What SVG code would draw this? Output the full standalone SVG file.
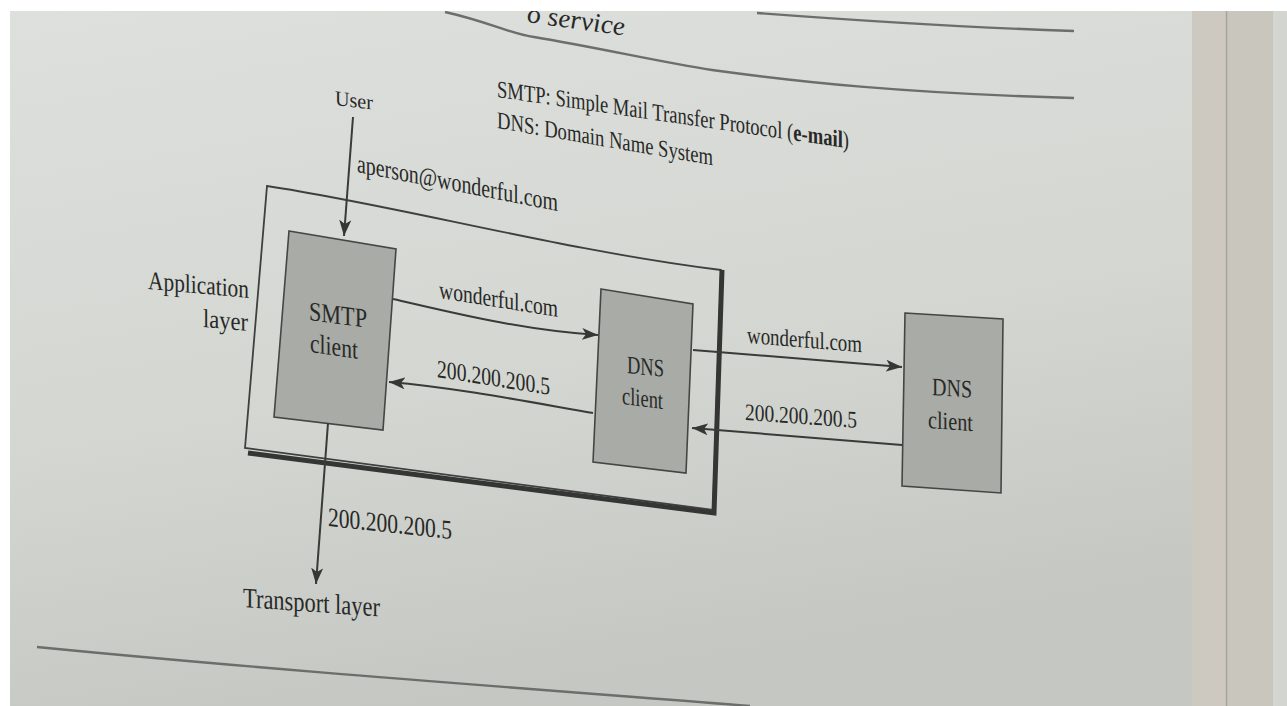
<svg xmlns="http://www.w3.org/2000/svg" width="1287" height="706" viewBox="0 0 1287 706">
<defs>
<linearGradient id="page" x1="0" y1="0" x2="0.3" y2="1">
<stop offset="0" stop-color="#dde0dc"/>
<stop offset="0.6" stop-color="#d3d6d1"/>
<stop offset="1" stop-color="#c4c7c2"/>
</linearGradient>
<marker id="ah" viewBox="0 0 16 12" refX="16" refY="6" markerWidth="16" markerHeight="12" markerUnits="userSpaceOnUse" orient="auto">
<path d="M0,0 L16,6 L0,12 L4,6 z" fill="#363735"/>
</marker>
<style>
text{font-family:"Liberation Serif","Times New Roman",serif;fill:#282927}
.box{fill:#a8aba6;stroke:#454644;stroke-width:1.6}
.frame{fill:none;stroke:#3f403e;stroke-width:1.8}
.shadow{fill:none;stroke:#353634;stroke-width:5;stroke-linejoin:miter}
.conn{fill:none;stroke:#3a3b39;stroke-width:2}
.rule{fill:none;stroke:#6b6e6a;stroke-width:2.4}
</style>
</defs>
<rect x="0" y="0" width="1287" height="706" fill="url(#page)"/>
<rect x="1192" y="0" width="34" height="706" fill="#cdc9c0"/>
<rect x="1226" y="0" width="47" height="706" fill="#c9c6bd"/>
<line x1="1226.5" y1="0" x2="1226.5" y2="706" stroke="#a7a49c" stroke-width="1.5"/>
<rect x="1273" y="0" width="14" height="706" fill="#d2d5d0"/>

<g id="page-rules">
<path class="rule" d="M445,12 C490,22 510,34 534,37 C600,48 660,62 712,70 C800,82 900,93 1074,98"/>
<path class="rule" d="M757,13 C850,20 950,27 1074,31"/>
<path class="rule" d="M37,647 C250,668 480,685 750,706"/>
</g>
<text transform="translate(527,22) skewY(8)" font-size="27" font-style="italic" textLength="98" lengthAdjust="spacingAndGlyphs">o service</text>

<rect x="0" y="0" width="1287" height="11" fill="#ffffff"/>
<rect x="0" y="0" width="10" height="706" fill="#ffffff"/>

<g id="notes">
<text transform="translate(497,97) skewY(8.3)" font-size="24" textLength="352" lengthAdjust="spacingAndGlyphs">SMTP: Simple Mail Transfer Protocol (<tspan font-weight="bold">e-mail</tspan>)</text>
<text transform="translate(497,128) skewY(9.8)" font-size="24" textLength="216" lengthAdjust="spacingAndGlyphs">DNS: Domain Name System</text>
</g>

<g id="application-layer">
<path class="frame" d="M267,186 C400,206 560,250 721,270 L713,510 L245,448 Z"/>
<polyline class="shadow" points="248,453 714,513 722,270"/>
<text transform="translate(148,289) skewY(5)" font-size="26" textLength="101" lengthAdjust="spacingAndGlyphs">Application</text>
<text transform="translate(203,327) skewY(5)" font-size="26" textLength="45" lengthAdjust="spacingAndGlyphs">layer</text>
</g>

<g id="smtp-client">
<polygon class="box" points="289,231 396,249 383,430 274,417"/>
<text transform="translate(309,320) skewY(7.5)" font-size="27" textLength="58" lengthAdjust="spacingAndGlyphs">SMTP</text>
<text transform="translate(310,352) skewY(8)" font-size="27" textLength="48" lengthAdjust="spacingAndGlyphs">client</text>
</g>

<g id="dns-client-local">
<polygon class="box" points="601,289 693,304 686,473 593,462"/>
<text transform="translate(627,373) skewY(6)" font-size="25" textLength="37" lengthAdjust="spacingAndGlyphs">DNS</text>
<text transform="translate(622,404) skewY(7)" font-size="25" textLength="41" lengthAdjust="spacingAndGlyphs">client</text>
</g>

<g id="dns-client-remote">
<polygon class="box" points="905,313 1003,319 1001,493 902,486"/>
<text transform="translate(932,395) skewY(4)" font-size="25" textLength="40" lengthAdjust="spacingAndGlyphs">DNS</text>
<text transform="translate(928,428) skewY(4)" font-size="25" textLength="45" lengthAdjust="spacingAndGlyphs">client</text>
</g>

<g id="connectors">
<path class="conn" marker-end="url(#ah)" d="M353,117 L344,236"/>
<path class="conn" marker-end="url(#ah)" d="M393,299 C450,312 520,330 598,335"/>
<path class="conn" marker-end="url(#ah)" d="M593,413 C540,404 460,388 389,382"/>
<path class="conn" marker-end="url(#ah)" d="M693,350 L902,367"/>
<path class="conn" marker-end="url(#ah)" d="M902,445 L692,428"/>
<path class="conn" marker-end="url(#ah)" d="M328,423 L316,584"/>
</g>

<g id="labels">
<text transform="translate(335,105) skewY(7)" font-size="21" textLength="38" lengthAdjust="spacingAndGlyphs">User</text>
<text transform="translate(357,172) skewY(11)" font-size="26" textLength="201" lengthAdjust="spacingAndGlyphs">aperson@wonderful.com</text>
<text transform="translate(439,298) skewY(9)" font-size="25" textLength="119" lengthAdjust="spacingAndGlyphs">wonderful.com</text>
<text transform="translate(437,377) skewY(9)" font-size="25" textLength="113" lengthAdjust="spacingAndGlyphs">200.200.200.5</text>
<text transform="translate(747,343) skewY(4.5)" font-size="24" textLength="115" lengthAdjust="spacingAndGlyphs">wonderful.com</text>
<text transform="translate(745,420) skewY(4)" font-size="24" textLength="112" lengthAdjust="spacingAndGlyphs">200.200.200.5</text>
<text transform="translate(328,526) skewY(6)" font-size="27" textLength="124" lengthAdjust="spacingAndGlyphs">200.200.200.5</text>
<text transform="translate(243,607) skewY(4)" font-size="28" textLength="137" lengthAdjust="spacingAndGlyphs">Transport layer</text>
</g>
</svg>
